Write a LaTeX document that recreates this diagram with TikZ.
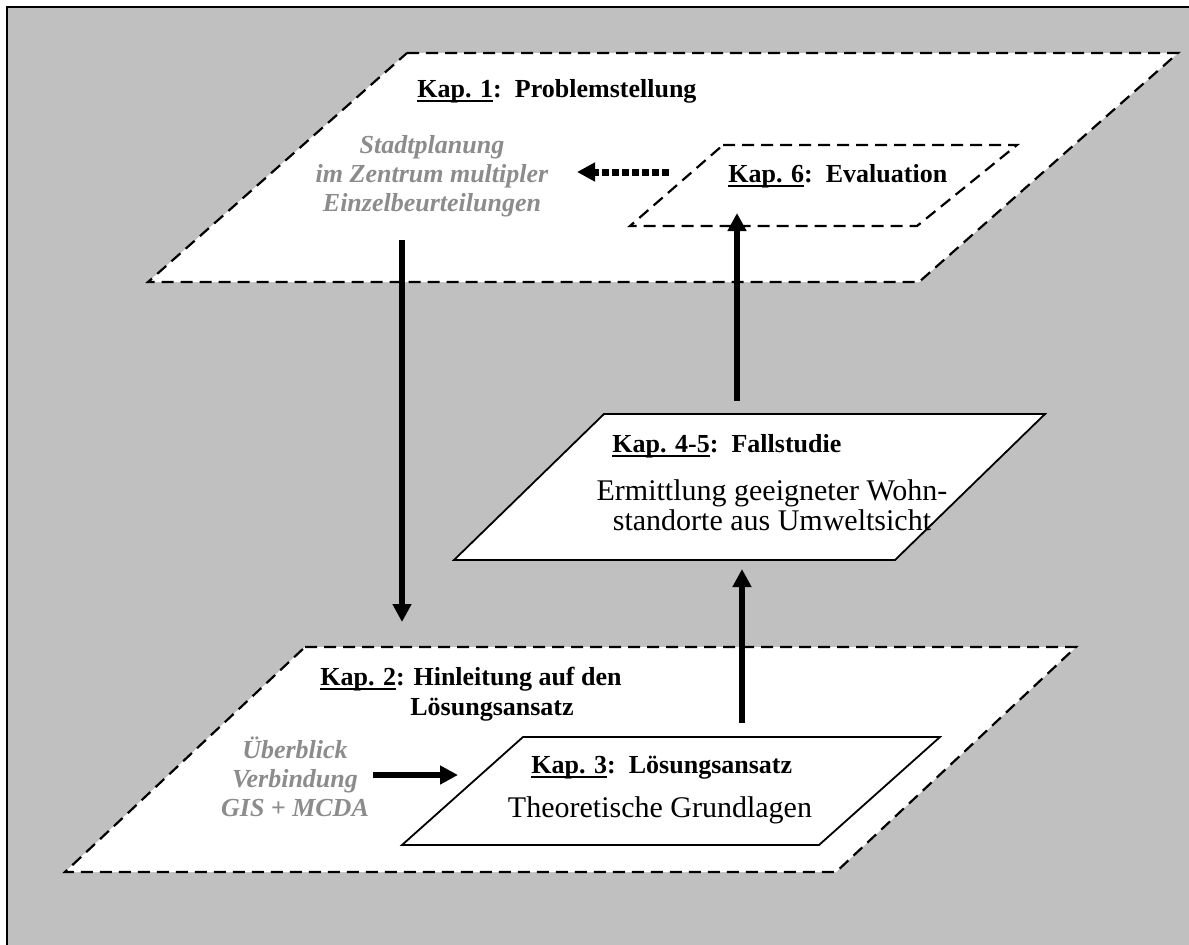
\documentclass[tikz,border=0pt]{standalone}
\usepackage{fontspec}
\setmainfont{Liberation Serif}
\usetikzlibrary{arrows.meta}
\definecolor{bggray}{HTML}{C0C0C0}
\definecolor{txtgray}{HTML}{8C8C8C}
\newcommand{\kapul}[1]{\setbox0\hbox{#1}\rlap{\rule[-2.4pt]{\wd0}{1pt}}\box0}
\begin{document}
\begin{tikzpicture}[x=0.5pt,y=-0.5pt]
\tikzstyle{every node}+=[inner sep=0pt]
\tikzstyle{levelbox}=[draw=black, fill=white, line width=1.1pt, dash pattern=on 6pt off 3.5pt]
\tikzstyle{partbox}=[draw=black, fill=white, line width=0.9pt]
\tikzstyle{bigarrow}=[line width=3pt, -{Triangle[width=9pt,length=9pt]}]
\tikzstyle{dotarrow}=[bigarrow, line width=3.5pt, dash pattern=on 3.5pt off 1.5pt]
\tikzstyle{kaptitle}=[font=\fontsize{13}{15}\selectfont\bfseries, anchor=base west]
\tikzstyle{graynote}=[font=\fontsize{13}{14.5}\selectfont\bfseries\itshape, text=txtgray, align=center]
\tikzstyle{bodytext}=[font=\fontsize{15}{15}\selectfont, align=center]
\useasboundingbox (0,0) rectangle (1189,944);
\clip (0,0) rectangle (1189,944);
\fill [white] (0,0) rectangle (1189,944);
\draw [fill=bggray, line width=1pt] (6.5,6.5) rectangle (1210,960);
% the two dashed levels and the boxes on them
\draw [levelbox] (407,53) -- (1178,53) -- (919,282) -- (148,282) -- cycle;
\draw [levelbox] (305,647) -- (1076,647) -- (836,872) -- (65,872) -- cycle;
\draw [levelbox] (723,145) -- (1017,145) -- (917,226) -- (630,226) -- cycle;
\draw [partbox] (604,414) -- (1045,414) -- (895,560) -- (454,560) -- cycle;
\draw [partbox] (523,737) -- (940,737) -- (819,845) -- (402,845) -- cycle;
% texts
\node [kaptitle] (kap1) at (417,97) {\kapul{Kap. 1}:\ \ Problemstellung};
\node [graynote] (stadt) at (432,176) {Stadtplanung\\im Zentrum multipler\\Einzelbeurteilungen};
\node [kaptitle] (kap6) at (728,182) {\kapul{Kap. 6}:\ \ Evaluation};
\node [kaptitle] (kap45) at (612,452) {\kapul{Kap. 4-5}:\ \ Fallstudie};
\node [bodytext] (fall) at (772,505) {Ermittlung geeigneter Wohn-\\standorte aus Umweltsicht};
\node [kaptitle] (kap2) at (320,685) {\kapul{Kap. 2}: Hinleitung auf den};
\node [kaptitle] (kap2b) at (410,715) {Lösungsansatz};
\node [graynote] (gis) at (295,777) {Überblick\\Verbindung\\GIS + MCDA};
\node [kaptitle] (kap3) at (531,773) {\kapul{Kap. 3}:\ \ Lösungsansatz};
\node [bodytext] (grund) at (660,810) {Theoretische Grundlagen};
% arrows
\coordinate (downA) at (402,240);
\coordinate (downB) at (402,622);
\coordinate (upA) at (742,723);
\coordinate (upB) at (742,569);
\coordinate (upC) at (737,401);
\coordinate (upD) at (737,213);
\coordinate (rightA) at (373,775);
\coordinate (rightB) at (458,775);
\coordinate (backA) at (669,172);
\coordinate (backB) at (577,172);
\draw [bigarrow] (downA) -- (downB);
\draw [bigarrow] (upA) -- (upB);
\draw [bigarrow] (upC) -- (upD);
\draw [bigarrow] (rightA) -- (rightB);
\draw [dotarrow] (backA) -- (backB);
\end{tikzpicture}
\end{document}
